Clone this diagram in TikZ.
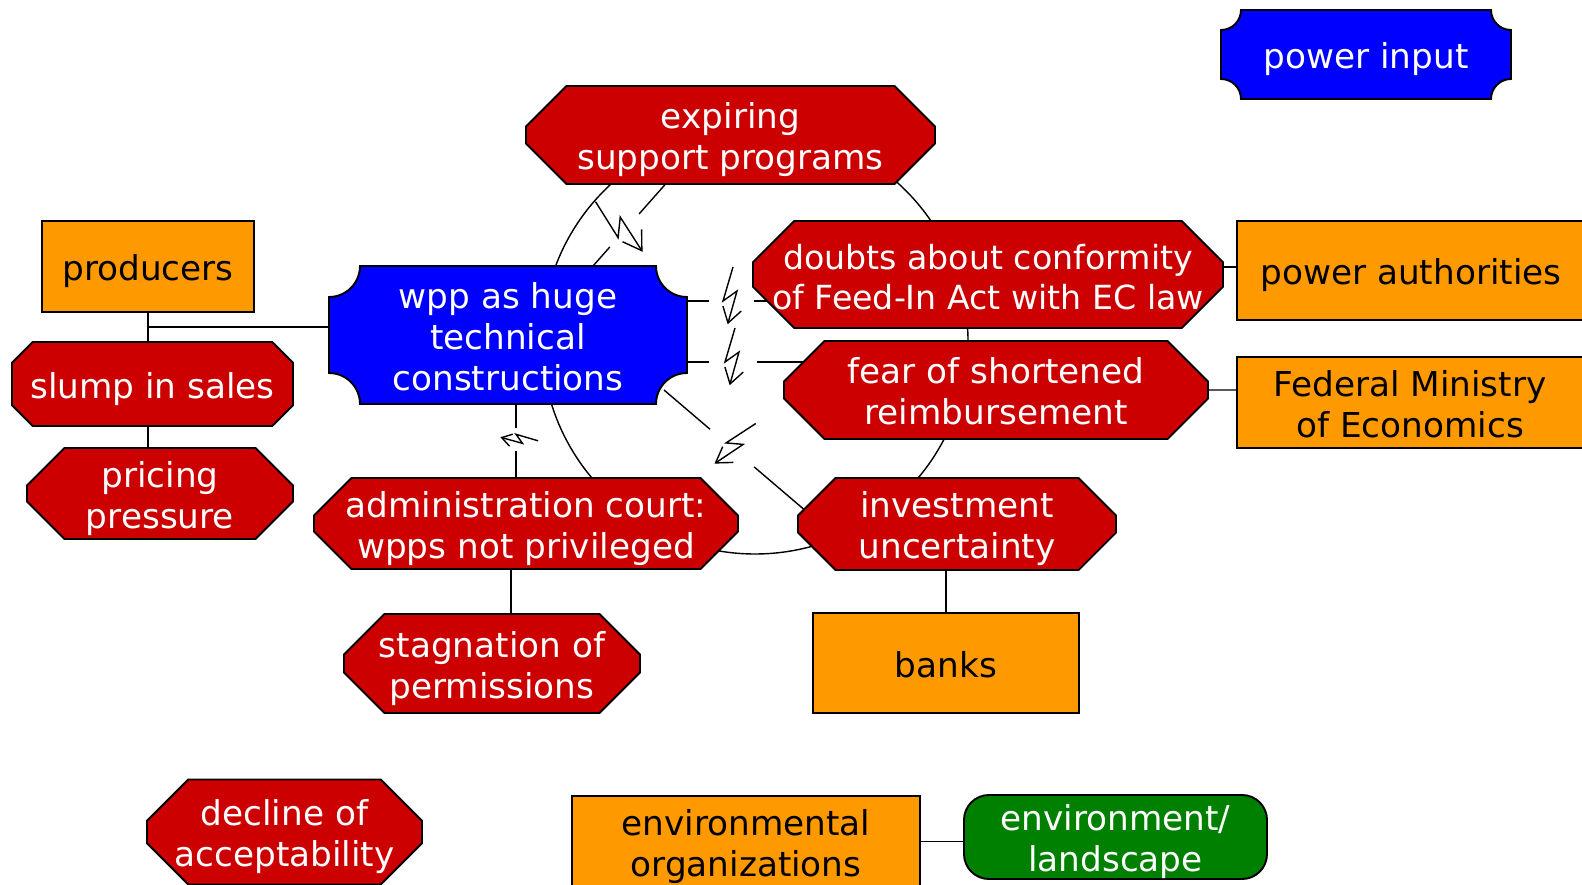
\documentclass[tikz,border=0pt]{standalone}
\usepackage{fontspec}
\setmainfont{DejaVu Sans}
\usetikzlibrary{shapes.misc,calc}
\definecolor{issuered}{RGB}{204,0,0}
\definecolor{actororange}{RGB}{255,153,0}
\definecolor{plaqueblue}{RGB}{0,0,255}
\definecolor{envgreen}{RGB}{0,128,0}
\pgfdeclarelayer{edges}
\pgfdeclarelayer{plaques}
\pgfsetlayers{edges,plaques,main}
\tikzset{
    every node/.style = {text height=16.3pt, text depth=0pt},
    two-lines/.style = {text height=39.7pt},
    three-lines/.style = {text height=63.1pt},
    issue/.style = {chamfered rectangle, chamfered rectangle xsep=0.62cm, draw=black, line width=1.1pt, fill=issuered, text=white, align=center, inner sep=0pt, inner xsep=-0.6cm},
    actor/.style = {rectangle, draw=black, line width=1.1pt, fill=actororange, text=black, align=center, inner sep=0pt},
    plaque/.style = {rectangle, text=white, align=center, inner sep=0pt, outer sep=0pt},
    plaque-line/.style = {draw=black, line width=1.1pt, fill=plaqueblue},
    link/.style = {draw=black, line width=0.8pt},
    bolt/.pic = {\draw[link] (0.04,0.68) -- (-0.16,0) -- (0.12,0.2) -- (-0.06,-0.44);
                 \draw[link] (0.204,-0.202) -- (-0.06,-0.44) -- (-0.162,-0.100);},
}
\newcommand\plaque[2]{%
  \begin{pgfonlayer}{plaques}
    \filldraw[plaque-line] ([xshift=#2]#1.north west) -- ([xshift=-#2]#1.north east)
      arc[start angle=180, end angle=270, radius=#2] -- ([yshift=#2]#1.south east)
      arc[start angle=90, end angle=180, radius=#2] -- ([xshift=#2]#1.south west)
      arc[start angle=0, end angle=90, radius=#2] -- ([yshift=-#2]#1.north west)
      arc[start angle=270, end angle=360, radius=#2] -- cycle;
  \end{pgfonlayer}}

\begin{document}
\begin{tikzpicture}[font=\fontsize{19.5pt}{23.4pt}\selectfont]
\useasboundingbox (0,0) rectangle (31.64,-17.70);

\node[plaque, minimum width=5.8cm, minimum height=1.78cm] (powerin) at (27.32,-1.09) {power input};
\node[issue, two-lines, minimum width=8.18cm, minimum height=1.96cm, chamfered rectangle xsep=0.68cm] (expiring) at (14.61,-2.70) {expiring\\support programs};
\node[actor, minimum width=4.24cm, minimum height=1.82cm] (producers) at (2.96,-5.33) {producers};
\node[plaque, three-lines, minimum width=7.16cm, minimum height=2.76cm] (wpp) at (10.16,-6.70) {wpp as huge\\technical\\constructions};
\node[issue, two-lines, minimum width=9.40cm, minimum height=2.14cm, chamfered rectangle xsep=0.74cm, font=\fontsize{18.9pt}{22.7pt}\selectfont] (doubts) at (19.76,-5.49) {doubts about conformity\\of Feed-In Act with EC law};
\node[actor, minimum width=6.96cm, minimum height=1.98cm] (authorities) at (28.22,-5.41) {power authorities};
\node[issue, two-lines, minimum width=8.48cm, minimum height=1.96cm, chamfered rectangle xsep=0.68cm] (fear) at (19.92,-7.80) {fear of shortened\\reimbursement};
\node[actor, two-lines, minimum width=6.92cm, minimum height=1.82cm] (ministry) at (28.20,-8.05) {Federal Ministry\\of Economics};
\node[issue, minimum width=5.62cm, minimum height=1.68cm, chamfered rectangle xsep=0.6cm] (slump) at (3.05,-7.68) {slump in sales};
\node[issue, two-lines, minimum width=5.32cm, minimum height=1.82cm] (pricing) at (3.20,-9.87) {pricing\\pressure};
\node[issue, two-lines, minimum width=8.48cm, minimum height=1.82cm] (court) at (10.52,-10.47) {administration court:\\wpps not privileged};
\node[issue, two-lines, minimum width=6.36cm, minimum height=1.84cm] (investment) at (19.14,-10.48) {investment\\uncertainty};
\node[issue, two-lines, minimum width=5.92cm, minimum height=1.98cm, chamfered rectangle xsep=0.68cm] (stagnation) at (9.84,-13.27) {stagnation of\\permissions};
\node[actor, minimum width=5.32cm, minimum height=2.0cm] (banks) at (18.92,-13.26) {banks};
\node[issue, two-lines, minimum width=5.50cm, minimum height=2.10cm, chamfered rectangle xsep=0.75cm] (decline) at (5.69,-16.64) {decline of\\acceptability};
\node[actor, two-lines, minimum width=6.96cm, minimum height=1.82cm] (envorgs) at (14.92,-16.83) {environmental\\organizations};
\node[actor, two-lines, rounded corners=0.5cm, fill=envgreen, text=white, minimum width=6.06cm, minimum height=1.68cm] (landscape) at (22.31,-16.74) {environment/\\landscape};

\plaque{powerin}{0.4cm}
\plaque{wpp}{0.62cm}

\begin{pgfonlayer}{edges}
\draw[link] (15.10,-6.82) circle[radius=4.26];
% plain links
\draw[link] (producers) -- (producers |- pricing);
\draw[link] ([yshift=0.16cm]wpp.center) -| (producers);
\draw[link] ([yshift=0.15cm]doubts.center) -- ([yshift=0.15cm]doubts.center -| authorities.center);
\draw[link] (fear) -- (fear -| ministry);
\draw[link] ([xshift=-0.3cm]court.center) -- ([xshift=-0.3cm]court.center |- stagnation.center);
\draw[link] (banks) -- (banks |- investment);
\draw[link] (envorgs) -- (envorgs -| landscape);
% conflicts
\coordinate (c1a) at ([xshift=1.7cm]wpp.north);
\coordinate (c1b) at ([shift={(-1.05cm,0.3cm)}]expiring.south);
\coordinate (c1m) at ($(c1a)!0.37!(c1b)$);
\draw[link] (c1a) -- ($(c1m)!0.44cm!(c1a)$) ($(c1m)!0.44cm!(c1b)$) -- (c1b);
\path (c1m) -- (c1b) pic[pos=0, sloped, scale=1.2]{bolt};

\coordinate (c2a) at ([yshift=0.68cm]wpp.east);
\coordinate (c2b) at (c2a -| doubts.center);
\coordinate (c2m) at ([xshift=0.88cm]c2a);
\draw[link] (c2a) -- ($(c2m)!0.45cm!(c2a)$) ($(c2m)!0.45cm!(c2b)$) -- (c2b);
\path (c2m) -- (c2b) pic[pos=0, sloped]{bolt};

\coordinate (c3a) at ([yshift=-0.54cm]wpp.east);
\coordinate (c3b) at (c3a -| fear.center);
\coordinate (c3m) at ([xshift=0.92cm]c3a);
\draw[link] (c3a) -- ($(c3m)!0.48cm!(c3a)$) ($(c3m)!0.48cm!(c3b)$) -- (c3b);
\path (c3m) -- (c3b) pic[pos=0, sloped]{bolt};

\coordinate (c4a) at ([shift={(-0.46cm,0.28cm)}]wpp.south east);
\coordinate (c4b) at ([shift={(0.34cm,0.12cm)}]investment.west);
\coordinate (c4m) at ($(c4a)!0.454!(c4b)$);
\draw[link] (c4a) -- ($(c4m)!0.58cm!(c4a)$) ($(c4m)!0.58cm!(c4b)$) -- (c4b);
\path (c4m) -- (c4b) pic[pos=0, sloped]{bolt};

\coordinate (c5a) at ([xshift=0.16cm]wpp.south);
\coordinate (c5b) at (c5a |- court.center);
\coordinate (c5m) at ([yshift=-0.71cm]c5a);
\draw[link] (c5a) -- ($(c5m)!0.23cm!(c5a)$) ($(c5m)!0.23cm!(c5b)$) -- (c5b);
\path (c5m) -- (c5b) pic[pos=0, sloped, scale=0.65]{bolt};
\end{pgfonlayer}
\end{tikzpicture}
\end{document}
